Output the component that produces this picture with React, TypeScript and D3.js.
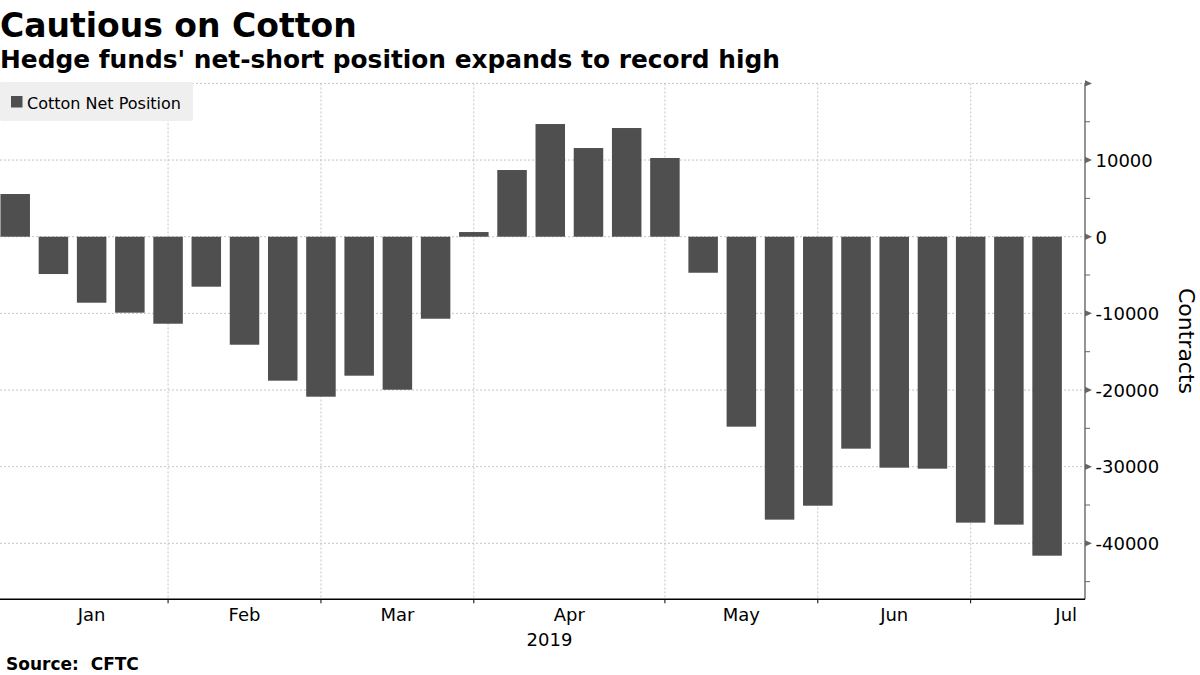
import React from "react";
import * as d3 from "d3";

// ---- Data ----
const dates: string[] = [
  "2019-01-04", "2019-01-11", "2019-01-18", "2019-01-25",
  "2019-02-01", "2019-02-08", "2019-02-15", "2019-02-22",
  "2019-03-01", "2019-03-08", "2019-03-15", "2019-03-22", "2019-03-29",
  "2019-04-05", "2019-04-12", "2019-04-19", "2019-04-26",
  "2019-05-03", "2019-05-10", "2019-05-17", "2019-05-24", "2019-05-31",
  "2019-06-07", "2019-06-14", "2019-06-21", "2019-06-28",
  "2019-07-05", "2019-07-12",
];
const netPosition: number[] = [
  5570, -4870, -8610, -9910, -11350, -6520, -14090, -18780,
  -20870, -18130, -19960, -10700, 610, 8700, 14700, 11570,
  14180, 10270, -4700, -24780, -36910, -35090, -27650, -30130,
  -30260, -37300, -37560, -41610,
];
const monthStarts: string[] = [
  "2019-01-01", "2019-02-01", "2019-03-01", "2019-04-01",
  "2019-05-01", "2019-06-01", "2019-07-01", "2019-08-01",
];
const monthLabels: string[] = ["Jan", "Feb", "Mar", "Apr", "May", "Jun", "Jul"];
const yMajorTicks: number[] = [20000, 10000, 0, -10000, -20000, -30000, -40000];
const yMinorTicks: number[] = [15000, 5000, -5000, -15000, -25000, -35000, -45000];
const yLabelTicks: number[] = [10000, 0, -10000, -20000, -30000, -40000];

const title = "Cautious on Cotton";
const subtitle = "Hedge funds' net-short position expands to record high";
const seriesName = "Cotton Net Position";
const yTitle = "Contracts";
const yearLabel = "2019";
const source = "Source:  CFTC";

// ---- Layout ----
const W = 1200;
const H = 675;
const plotLeft = 0;
const plotRight = 1085;
const plotTop = 83.4;
const plotBottom = 599.3;
const FONT = "'DejaVu Sans', Verdana, sans-serif";
const BAR = "#4f4f4f";
const GRID = "#c4c4c4";
const AXIS = "#666666";

export default function App() {
  const parse = d3.utcParse("%Y-%m-%d");
  const d0 = parse(dates[0])!;
  const dayMs = 86400000;

  const y = d3.scaleLinear().domain([-47300, 20000]).range([plotBottom, plotTop]);
  const x = d3
    .scaleLinear()
    .domain([0, dates.length - 1])
    .range([15.2, 1047.1]);
  const step = x(1) - x(0);
  const barW = step * 0.772;

  // month ticks snap to the nearest weekly observation
  const monthIdx = monthStarts.map((m) => {
    const dt = parse(m)!;
    return Math.round((dt.getTime() - d0.getTime()) / dayMs / 7);
  });
  const monthPos = monthIdx.map((i) => x(i));
  const gridMonths = monthPos.slice(1, monthPos.length - 1);
  const labelPos = monthLabels.map((_, i) => (monthPos[i] + monthPos[i + 1]) / 2);

  const tri = (yy: number) =>
    `M${plotRight},${yy - 3.2}L${plotRight + 7},${yy}L${plotRight},${yy + 3.2}Z`;

  return (
    <svg
      width={W}
      height={H}
      viewBox={`0 0 ${W} ${H}`}
      style={{ position: "absolute", left: 0, top: 0, background: "#fff" }}
      fontFamily={FONT}
    >
      <rect x={0} y={0} width={W} height={H} fill="#fff" />
      {/* titles */}
      <text x={0} y={37} fontSize={33} fontWeight="bold" fill="#000">
        {title}
      </text>
      <text x={0} y={68} fontSize={24.85} fontWeight="bold" fill="#000">
        {subtitle}
      </text>

      {/* gridlines */}
      <g stroke={GRID} strokeWidth={1} strokeDasharray="2,2">
        {yMajorTicks.map((t) => (
          <line key={"h" + t} x1={plotLeft} x2={plotRight} y1={y(t)} y2={y(t)} />
        ))}
        {gridMonths.map((px, i) => (
          <line key={"v" + i} x1={px} x2={px} y1={plotTop} y2={plotBottom} />
        ))}
      </g>

      {/* bars */}
      <g fill={BAR}>
        {netPosition.map((v, i) => (
          <rect
            key={i}
            x={x(i) - barW / 2}
            width={barW}
            y={Math.min(y(v), y(0))}
            height={Math.abs(y(v) - y(0))}
          />
        ))}
      </g>

      {/* legend */}
      <rect x={0} y={82} width={193} height={39} rx={2} fill="#efefef" />
      <rect x={11} y={96} width={11.5} height={11.5} fill={BAR} />
      <text x={27} y={109} fontSize={16} fill="#000">
        {seriesName}
      </text>

      {/* right axis */}
      <line x1={plotRight} x2={plotRight} y1={plotTop} y2={plotBottom} stroke={AXIS} strokeWidth={1.4} />
      {yMajorTicks.map((t) => (
        <path key={"t" + t} d={tri(y(t))} fill={AXIS} />
      ))}
      {yMinorTicks.map((t) => (
        <line key={"m" + t} x1={plotRight} x2={plotRight + 5} y1={y(t)} y2={y(t)} stroke={AXIS} strokeWidth={1} />
      ))}
      {yLabelTicks.map((t) => (
        <text key={"l" + t} x={1095.5} y={y(t) + 6.8} fontSize={18} fill="#000">
          {t < 0 ? "-" + Math.abs(t) : String(t)}
        </text>
      ))}
      <text
        transform={`translate(1178.5,341) rotate(90)`}
        textAnchor="middle"
        fontSize={22}
        fill="#000"
      >
        {yTitle}
      </text>

      {/* bottom axis */}
      <line x1={plotLeft} x2={plotRight} y1={plotBottom} y2={plotBottom} stroke="#000" strokeWidth={1.4} />
      {gridMonths.map((px, i) => (
        <line key={"bt" + i} x1={px} x2={px} y1={plotBottom} y2={plotBottom + 4} stroke="#000" strokeWidth={1} />
      ))}
      {monthLabels.map((m, i) => (
        <text key={m} x={labelPos[i]} y={621} fontSize={18} textAnchor="middle" fill="#000">
          {m}
        </text>
      ))}
      <text x={549.5} y={646} fontSize={18} textAnchor="middle" fill="#000">
        {yearLabel}
      </text>

      {/* source */}
      <text x={6} y={670} fontSize={17} fontWeight="bold" fill="#000" style={{ whiteSpace: "pre" }}>
        {source}
      </text>
    </svg>
  );
}
